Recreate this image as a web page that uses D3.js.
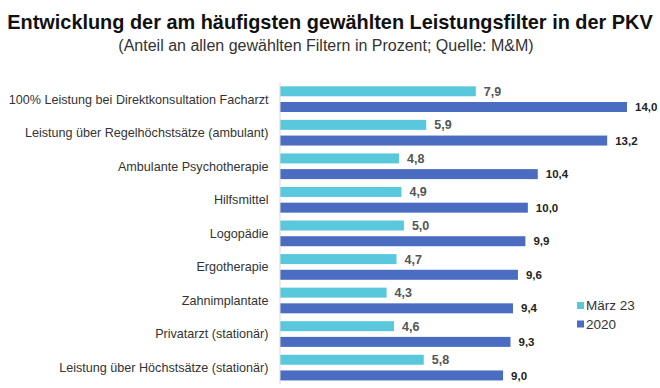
<!DOCTYPE html>
<html>
<head>
<meta charset="utf-8">
<script src="https://cdn.jsdelivr.net/npm/d3@7"></script>
<style>
  body { margin: 0; background: #fff; }
  svg { font-family: "Liberation Sans", Arial, sans-serif; }
</style>
</head>
<body>
<svg id="chart" width="660" height="388"></svg>
<script>
const categories = [
    "100% Leistung bei Direktkonsultation Facharzt",
    "Leistung über Regelhöchstsätze (ambulant)",
    "Ambulante Psychotherapie",
    "Hilfsmittel",
    "Logopädie",
    "Ergotherapie",
    "Zahnimplantate",
    "Privatarzt (stationär)",
    "Leistung über Höchstsätze (stationär)"
];
const maerz23 = [7.9, 5.9, 4.8, 4.9, 5.0, 4.7, 4.3, 4.6, 5.8];
const y2020 = [14.0, 13.2, 10.4, 10.0, 9.9, 9.6, 9.4, 9.3, 9.0];
const seriesNames = ["März 23", "2020"];
const colors = ["#5AC8DC", "#4A6DC2"];

const svg = d3.select("#chart");
const fmt = v => d3.format(".1f")(v).replace(".", ",");

svg.append("text")
    .attr("x", 330).attr("y", 29)
    .attr("text-anchor", "middle")
    .attr("font-size", 19.9).attr("font-weight", "bold")
    .attr("fill", "#111")
    .text("Entwicklung der am häufigsten gewählten Leistungsfilter in der PKV");
svg.append("text")
    .attr("x", 326).attr("y", 51)
    .attr("text-anchor", "middle")
    .attr("font-size", 16)
    .attr("fill", "#333")
    .text("(Anteil an allen gewählten Filtern in Prozent; Quelle: M&M)");

const x = d3.scaleLinear().domain([0, 14]).range([280, 627]);
const y = d3.scaleBand().domain(categories).range([82, 384]);

const rows = categories.map((c, i) => ({cat: c, vals: [maerz23[i], y2020[i]]}));
const barH = 10;
const offsets = [4.3, 20];

const g = svg.append("g");
rows.forEach(r => {
    r.vals.forEach((v, s) => {
        g.append("rect")
            .attr("x", x(0))
            .attr("y", y(r.cat) + offsets[s])
            .attr("width", x(v) - x(0))
            .attr("height", barH)
            .attr("fill", colors[s]);
        g.append("text")
            .attr("x", x(v) + 8)
            .attr("y", y(r.cat) + offsets[s] + barH / 2)
            .attr("dy", "0.36em")
            .attr("font-size", s === 0 ? 12.5 : 11.5)
            .attr("font-weight", "bold")
            .attr("fill", s === 0 ? "#555" : "#222")
            .text(fmt(v));
    });
});

const axisY = d3.axisLeft(y).tickSize(0).tickPadding(11);
svg.append("g")
    .attr("transform", `translate(${x(0) - 0.5},0)`)
    .call(axisY)
    .call(a => a.select(".domain").attr("stroke", "#d9d9d9"))
    .call(a => a.selectAll("text")
        .attr("font-size", 12.6)
        .attr("fill", "#333")
        .attr("font-family", "Liberation Sans, Arial, sans-serif")
        .attr("dy", "0.38em"));

const legend = svg.append("g").attr("transform", "translate(577,302)");
seriesNames.forEach((n, i) => {
    legend.append("rect")
        .attr("x", 0).attr("y", i * 18.5)
        .attr("width", 7).attr("height", 7)
        .attr("fill", colors[i]);
    legend.append("text")
        .attr("x", 9).attr("y", i * 18.5 + 3.5)
        .attr("dy", "0.36em")
        .attr("font-size", 13.5)
        .attr("fill", "#333")
        .text(n);
});
</script>
</body>
</html>
